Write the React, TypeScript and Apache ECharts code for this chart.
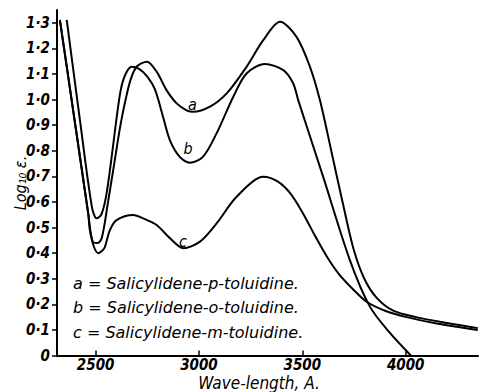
import { useEffect, useRef } from 'react';
import * as echarts from 'echarts';

// Curve a = Salicylidene-p-toluidine
const waveA = [2327, 2398, 2464, 2487, 2510, 2530, 2560, 2590, 2620, 2645, 2670, 2700, 2748, 2795, 2843, 2892, 2940, 2972, 3053, 3134, 3230, 3311, 3392, 3472, 3537, 3585, 3640, 3700, 3750, 3800, 3860, 3940, 4050, 4200, 4349];
const logA = [1.311, 0.92, 0.555, 0.443, 0.44, 0.46, 0.6, 0.75, 0.9, 1.0, 1.08, 1.13, 1.148, 1.109, 1.037, 0.985, 0.958, 0.952, 0.972, 1.024, 1.128, 1.232, 1.304, 1.245, 1.128, 0.998, 0.8, 0.58, 0.41, 0.3, 0.225, 0.175, 0.15, 0.127, 0.107];

// Curve b = Salicylidene-o-toluidine
const waveB = [2360, 2424, 2482, 2505, 2527, 2550, 2575, 2600, 2622, 2645, 2674, 2710, 2750, 2787, 2827, 2860, 2908, 2956, 3020, 3085, 3166, 3230, 3319, 3408, 3456, 3480, 3601, 3730, 3827, 3924, 4025];
const logB = [1.311, 0.92, 0.58, 0.536, 0.55, 0.62, 0.76, 0.92, 1.04, 1.1, 1.128, 1.12, 1.09, 1.04, 0.93, 0.84, 0.775, 0.753, 0.777, 0.868, 1.011, 1.102, 1.139, 1.115, 1.063, 0.998, 0.698, 0.373, 0.191, 0.088, 0];

// Curve c = Salicylidene-m-toluidine
const waveC = [2327, 2398, 2464, 2472, 2492, 2513, 2535, 2545, 2569, 2601, 2682, 2730, 2795, 2860, 2924, 3005, 3085, 3182, 3311, 3380, 3440, 3500, 3560, 3620, 3680, 3750, 3811, 3900, 4005, 4150, 4349];
const logC = [1.311, 0.92, 0.555, 0.49, 0.424, 0.4, 0.412, 0.425, 0.49, 0.529, 0.549, 0.536, 0.51, 0.458, 0.419, 0.445, 0.516, 0.62, 0.698, 0.68, 0.635, 0.56, 0.47, 0.385, 0.315, 0.255, 0.21, 0.175, 0.15, 0.125, 0.1];

const xTicks = [2500, 3000, 3500, 4000];
const yTicks = [0, 0.1, 0.2, 0.3, 0.4, 0.5, 0.6, 0.7, 0.8, 0.9, 1.0, 1.1, 1.2, 1.3];
const legendLines = [
  'a = Salicylidene-p-toluidine.',
  'b = Salicylidene-o-toluidine.',
  'c = Salicylidene-m-toluidine.',
];
const curveLetters = ['a', 'b', 'c'];

export default function App() {
  const ref = useRef<HTMLDivElement>(null);
  useEffect(() => {
    document.body.style.margin = '0';
    const chart = echarts.init(ref.current!, null, { renderer: 'svg' });
    const font = "'DejaVu Sans Condensed', 'DejaVu Sans', sans-serif";
    const wide = "'DejaVu Sans', sans-serif";
    const zip = (xs: number[], ys: number[]) => xs.map((x, i) => [x, ys[i]]);
    const lineSeries = (name: string, xs: number[], ys: number[]) => ({
      type: 'line',
      name,
      data: zip(xs, ys),
      smooth: 0.3,
      showSymbol: false,
      symbol: 'none',
      silent: true,
      lineStyle: { color: '#000', width: 2 },
    });
    const fmtY = (v: number) => (v === 0 ? '0' : v.toFixed(1).replace('.', '·'));
    chart.setOption({
      animation: false,
      backgroundColor: '#fff',
      grid: { left: 57, right: 2, top: 10, bottom: 36.5 },
      xAxis: {
        type: 'value',
        min: 2313,
        max: 4350,
        axisLine: { lineStyle: { color: '#000', width: 2 } },
        axisTick: { show: true, inside: true, length: 5, customValues: xTicks, lineStyle: { color: '#000', width: 1.5 } },
        axisLabel: { customValues: xTicks, formatter: (v: number) => String(v), color: '#000', fontFamily: font, fontStyle: 'italic', fontWeight: 'bold', fontSize: 15, margin: 2 },
        splitLine: { show: false },
      },
      yAxis: {
        type: 'value',
        min: 0,
        max: 1.35,
        axisLine: { show: true, lineStyle: { color: '#000', width: 2 } },
        axisTick: { show: true, inside: false, length: 5, customValues: yTicks, lineStyle: { color: '#000', width: 1.5 } },
        axisLabel: { customValues: yTicks, formatter: fmtY, color: '#000', fontFamily: font, fontStyle: 'italic', fontWeight: 'bold', fontSize: 15, margin: 7 },
        splitLine: { show: false },
      },
      series: [
        lineSeries('a', waveA, logA),
        lineSeries('b', waveB, logB),
        lineSeries('c', waveC, logC),
      ],
      graphic: [
        {
          type: 'text',
          x: 20,
          y: 183,
          rotation: Math.PI / 2,
          style: { text: 'Log₁₀ ε.', fill: '#000', font: `italic 16px ${font}`, textAlign: 'center', textVerticalAlign: 'middle' },
        },
        {
          type: 'text',
          x: 259,
          y: 383,
          style: { text: 'Wave-length, A.', fill: '#000', font: `italic 17px ${font}`, textAlign: 'center', textVerticalAlign: 'middle' },
        },
        ...legendLines.map((t, i) => ({
          type: 'text',
          x: 73,
          y: 283 + i * 24.5,
          style: { text: t, fill: '#000', font: `italic 16px ${wide}`, textAlign: 'left', textVerticalAlign: 'middle' },
        })),
        ...curveLetters.map((t, i) => ({
          type: 'text',
          x: [192.5, 188, 183][i],
          y: [104, 148.5, 241][i],
          style: { text: t, fill: '#000', font: `italic 16px ${font}`, textAlign: 'center', textVerticalAlign: 'middle' },
        })),
      ],
    });
    return () => chart.dispose();
  }, []);
  return <div ref={ref} style={{ position: 'absolute', left: 0, top: 0, width: 480, height: 392 }} />;
}
